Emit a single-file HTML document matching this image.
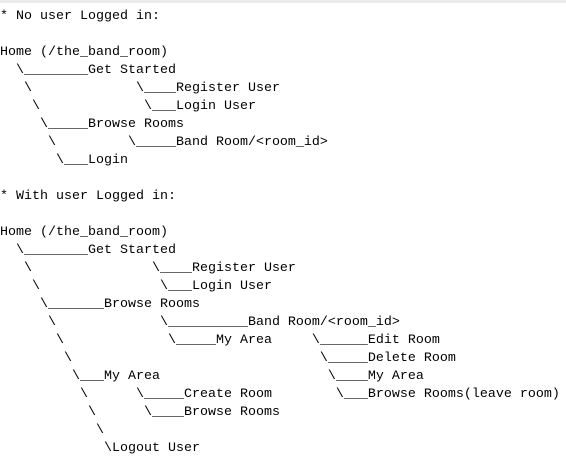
<!DOCTYPE html>
<html><head><meta charset="utf-8"><style>
html,body{margin:0;padding:0;background:#fff;width:566px;height:459px;overflow:hidden;}
.top{position:absolute;left:0;top:0;width:566px;height:3px;background:#ececec;}
pre{position:absolute;left:0;top:8px;margin:0;font-family:"Liberation Mono",monospace;font-size:13.33px;line-height:18px;color:#000;}
</style></head><body>
<div class="top"></div>
<pre>* No user Logged in:

Home (/the_band_room)
  \________Get Started
   \             \____Register User
    \             \___Login User
     \_____Browse Rooms
      \         \_____Band Room/&lt;room_id&gt;
       \___Login

* With user Logged in:

Home (/the_band_room)
  \________Get Started
   \               \____Register User
    \               \___Login User
     \_______Browse Rooms
      \             \__________Band Room/&lt;room_id&gt;
       \             \_____My Area     \______Edit Room
        \                               \_____Delete Room
         \___My Area                     \____My Area
          \      \_____Create Room        \___Browse Rooms(leave room)
           \      \____Browse Rooms
            \
             \Logout User</pre>
</body></html>
